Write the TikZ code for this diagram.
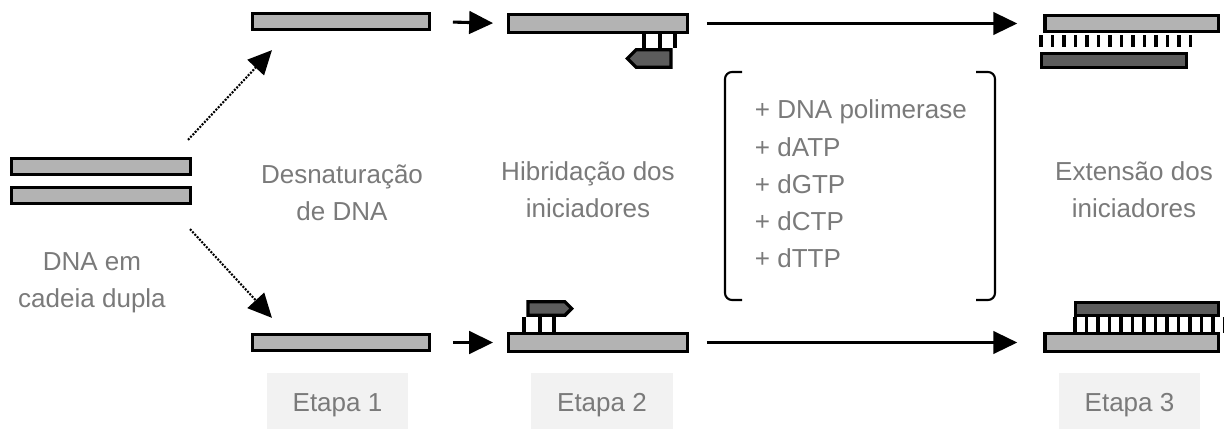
\documentclass[tikz,border=0pt]{standalone}
\usepackage{fontspec}
\setmainfont{Liberation Sans}
\usepackage{tikz}
\usetikzlibrary{arrows.meta,calc,shapes.symbols}
\definecolor{strandlight}{HTML}{B3B3B3}
\definecolor{stranddark}{HTML}{5C5C5C}
\definecolor{labelgray}{HTML}{7A7A7A}
\definecolor{stagefill}{HTML}{F2F2F2}
\tikzset{% 
  old strand/.style={%
    draw,
    fill=strandlight,
    line width=2.3pt,
    inner sep=0pt
  }
}
\tikzset{% 
  new strand/.style={%
    old strand,
    fill=stranddark
  }
}
\tikzset{% 
  primer/.style={%
    new strand,
    signal,
    minimum width=1.09cm
  }
}
\tikzset{% 
  rung/.style={%
    line width=2.3pt
  }
}
\tikzset{% 
  label text/.style={%
    text=labelgray,
    align=center,
    font=\fontsize{18.5}{26.5}\selectfont
  }
}
\tikzset{% 
  stage box/.style={%
    fill=stagefill,
    text=labelgray,
    minimum width=3.525cm,
    minimum height=1.6cm,
    font=\fontsize{18.5}{26.5}\selectfont
  }
}
\tikzset{% 
  step arrow/.style={%
    line width=2.2pt,
    -{Triangle[length=17pt,width=16pt]}
  }
}
\tikzset{% 
  split arrow/.style={%
    line width=1.5pt,
    dash pattern=on 1.4pt off 1pt,
    -{Triangle[length=17pt,width=16pt]}
  }
}

\begin{document}
\begin{tikzpicture}[x=0.025cm,y=-0.025cm]
  \useasboundingbox (0,0) rectangle (1224,428);
  % double strand
  \node [old strand, minimum width=4.47cm, minimum height=0.4cm] (ds1) at (101,166.5) {};
  \node [old strand, minimum width=4.47cm, minimum height=0.4cm] (ds2) at (101,195.5) {};
  \node [label text] (dslabel) at (92,283) {DNA em\\cadeia dupla};
  % etapa 1
  \node [old strand, minimum width=4.42cm, minimum height=0.4cm] (e1top) at (341,21.5) {};
  \node [old strand, minimum width=4.42cm, minimum height=0.4cm] (e1bot) at (341,342.5) {};
  \node [label text] (e1label) at (342,193) {Desnaturação\\de DNA};
  \node [stage box] (etapa1) at (337.5,405) {Etapa 1};
  \draw [split arrow] ($(ds1.north east)+(-4,-17)$) -- ($(e1top.south west)+(21,19)$);
  \draw [split arrow] ($(ds2.south east)+(-2,24)$) -- ($(e1bot.north west)+(21,-15)$);
  % etapa 2
  \node [old strand, minimum width=4.46cm, minimum height=0.44cm] (e2top) at (598,23.5) {};
  \node [old strand, minimum width=4.46cm, minimum height=0.44cm] (e2bot) at (598,342.5) {};
  \node [primer, signal to=west, minimum height=0.44cm] (p1) at (653.5,58.5) {};
  \node [primer, signal to=east, minimum height=0.34cm] (p2) at (546.5,308.5) {};
  \foreach \x in {644,660,675}
    \draw [rung] (\x,34) -- (\x,48);
  \foreach \x in {524,540,554}
    \draw [rung] (\x,317) -- (\x,332);
  \node [label text] (e2label) at (588,190) {Hibridação dos\\iniciadores};
  \node [stage box] (etapa2) at (602,405) {Etapa 2};
  \draw [step arrow, shorten <=15.6pt, shorten >=10pt] (e1top.east) -- (e2top.west);
  \draw [step arrow, shorten <=15.6pt, shorten >=10pt] (e1bot.east) -- (e2bot.west);
  % reagentes
  \node [label text, align=left, anchor=west] (reagents) at (750,184)
    {+ DNA polimerase\\+ dATP\\+ dGTP\\+ dCTP\\+ dTTP};
  \draw [line width=1.5pt, rounded corners=5pt] (742,72) -- (725,72) -- (725,300) -- (742,300);
  \draw [line width=1.5pt, rounded corners=5pt] (976,72) -- (995,72) -- (995,300) -- (976,300);
  % etapa 3
  \node [old strand, minimum width=4.33cm, minimum height=0.4cm] (e3top) at (1131.5,23.5) {};
  \node [new strand, minimum width=3.61cm, minimum height=0.34cm] (e3topnew) at (1114,60.5) {};
  \node [old strand, minimum width=4.33cm, minimum height=0.44cm] (e3bot) at (1131.5,342.5) {};
  \node [new strand, minimum width=3.56cm, minimum height=0.32cm] (e3botnew) at (1147,309) {};
  \foreach \i in {0,...,13}
    \draw [rung] (1041+11.5*\i,35) -- (1041+11.5*\i,47);
  \foreach \i in {0,...,13}
    \draw [rung] (1075+11.5*\i,317) -- (1075+11.5*\i,333);
  \node [label text] (e3label) at (1134,190) {Extensão dos\\iniciadores};
  \node [stage box] (etapa3) at (1129.5,405) {Etapa 3};
  \draw [step arrow, line width=1.8pt, shorten <=12.8pt, shorten >=18.5pt] (e2top.east) -- (e3top.west);
  \draw [step arrow, line width=1.8pt, shorten <=12.8pt, shorten >=18.5pt] (e2bot.east) -- (e3bot.west);
\end{tikzpicture}
\end{document}
